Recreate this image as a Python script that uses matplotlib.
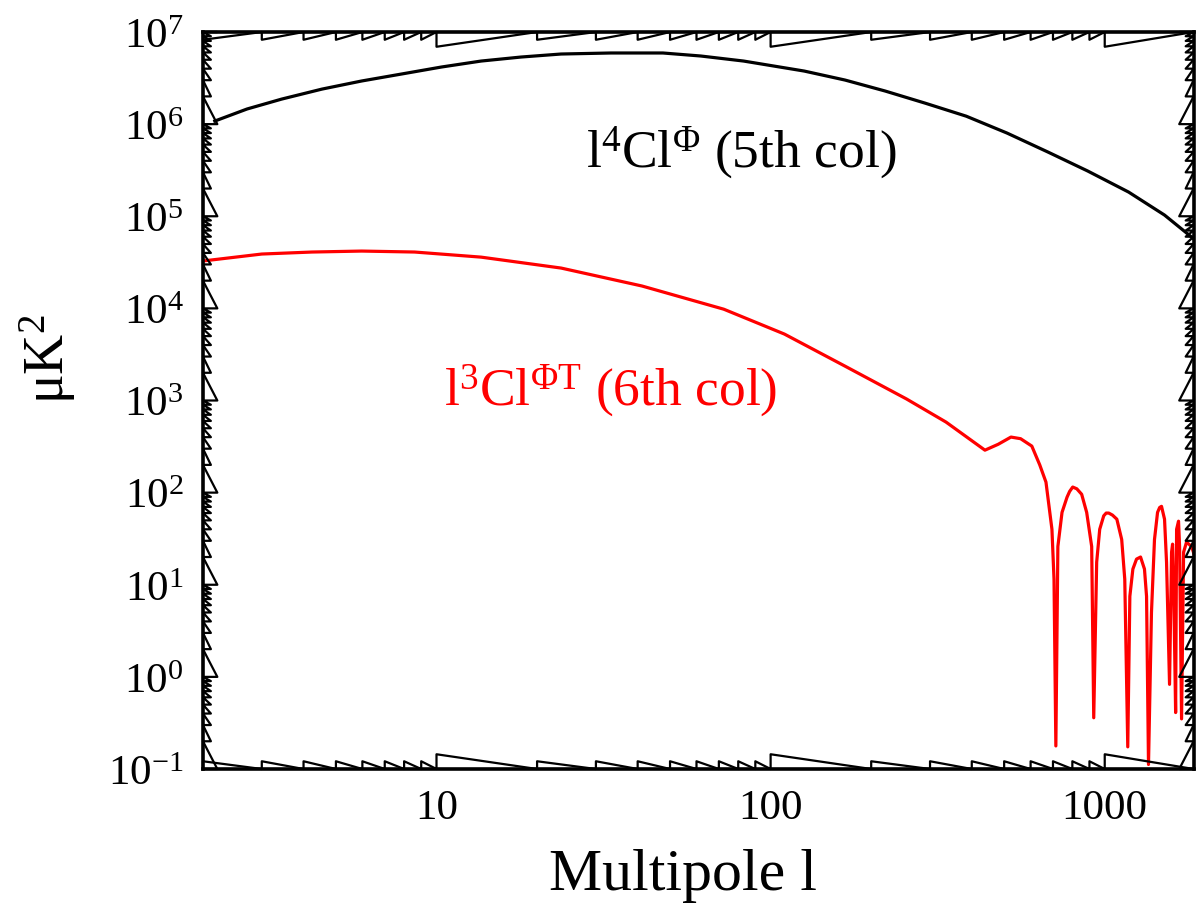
import matplotlib
matplotlib.use('Agg')
import matplotlib.pyplot as plt
from matplotlib import transforms
from matplotlib.ticker import FixedLocator, FixedFormatter, LogFormatterSciNotation, NullLocator

plt.rcParams['font.family'] = ['Liberation Serif', 'DejaVu Serif']
plt.rcParams['mathtext.fontset'] = 'custom'
plt.rcParams['mathtext.rm'] = 'Liberation Serif'
plt.rcParams['mathtext.it'] = 'Liberation Serif:italic'
plt.rcParams['mathtext.bf'] = 'Liberation Serif:bold'
plt.rcParams['axes.unicode_minus'] = False

# l^4 Cl^Phi (5th column)
l_phi = [2.17, 2.71, 3.44, 4.54, 5.97, 7.86, 10.35, 13.6, 17.9, 23.6, 33.3, 47.6, 61.8, 83,
         126, 167, 220, 290, 385, 510, 676, 889, 1179, 1510, 1882]
cl_phi = [1.08e6, 1.46e6, 1.87e6, 2.40e6, 2.94e6, 3.50e6, 4.17e6, 4.84e6, 5.35e6, 5.77e6,
          5.92e6, 5.92e6, 5.49e6, 4.84e6, 3.77e6, 3.01e6, 2.29e6, 1.69e6, 1.22e6, 8.0e5,
          4.98e5, 3.10e5, 1.83e5, 1.03e5, 5.38e4]

# l^3 Cl^PhiT (6th column)
l_phit = [2.0, 3.0, 4.24, 5.97, 8.6, 13.6, 23.6, 41.2, 72.4, 110, 167, 255, 335, 438, 480, 524, 560,
          605, 639, 667, 695, 705, 714,
          724, 745, 771, 785, 802, 825, 853, 883, 914, 927,
          946, 966, 993, 1010, 1028, 1055, 1087, 1124, 1148, 1172,
          1189, 1214, 1245, 1280, 1315, 1334, 1352,
          1380, 1409, 1439, 1460, 1479, 1510, 1531, 1563,
          1585, 1596, 1607, 1630,
          1641, 1663, 1675, 1698,
          1722, 1757, 1820, 1870]
cl_phit = [3.27e4, 3.89e4, 4.09e4, 4.19e4, 4.09e4, 3.6e4, 2.74e4, 1.75e4, 9.8e3, 5.26e3, 2.36e3, 1.04e3, 583, 289, 335, 401, 385,
           320, 200, 130, 40, 11.5, 0.178,
           26, 61, 89, 103, 115, 110, 96, 61, 26, 0.36,
           17.6, 40, 56, 60, 60, 57, 51.5, 31, 11.5, 0.174,
           7.5, 14.8, 19, 20, 14.8, 7.5, 0.112,
           5.0, 31, 61, 69, 71, 51.5, 17.6, 0.83,
           22.6, 27.6, 11.5, 0.41,
           40, 49, 26, 0.35,
           22.6, 29, 26, 19]

x_lim = (2, 1845)
y_lim = (1e-1, 1e7)
x_ticks = [10, 100, 1000]
x_labels = ['10', '100', '1000']
y_ticks = [10.0 ** e for e in range(-1, 8)]


def tick_list(lo, hi):
    out = []
    for e in range(-2, 8):
        for k in range(1, 10):
            v = k * 10.0 ** e
            if lo * 0.9999 <= v <= hi * 1.0001:
                out.append((v, k == 1))
    return out


def sawtooth(ax, side, ticks, end, minor_len, major_len):
    along, across = [], []
    for i, (v, maj) in enumerate(ticks):
        nxt = ticks[i + 1][0] if i + 1 < len(ticks) else end
        ln = major_len if maj else minor_len
        along += [v, v, nxt]
        across += [0, ln, 0]
    if side in ('top', 'right'):
        across = [1 - a for a in across]
    if side in ('bottom', 'top'):
        tr = transforms.blended_transform_factory(ax.transData, ax.transAxes)
        ax.plot(along, across, color='black', lw=1.6, transform=tr, clip_on=False)
    else:
        tr = transforms.blended_transform_factory(ax.transAxes, ax.transData)
        ax.plot(across, along, color='black', lw=1.6, transform=tr, clip_on=False)


fig = plt.figure(figsize=(11.96, 9.12), dpi=100)
ax = fig.add_axes([0.1697, 0.1557, 0.8283, 0.8081])
ax.set_xscale('log')
ax.set_yscale('log')
ax.set_xlim(*x_lim)
ax.set_ylim(*y_lim)

ax.plot(l_phi, cl_phi, color='black', lw=2.3)
ax.plot(l_phit, cl_phit, color='red', lw=2.3)

ax.text(0.543, 0.818, 'l$^{4}$Cl$^{\\mathrm{Φ}}$ (5th col)', fontsize=38.5,
        ha='center', va='baseline', color='black', transform=ax.transAxes)
ax.text(0.412, 0.495, 'l$^{3}$Cl$^{\\mathrm{ΦT}}$ (6th col)', fontsize=38.5,
        ha='center', va='baseline', color='red', transform=ax.transAxes)

ax.xaxis.set_major_locator(FixedLocator(x_ticks))
ax.xaxis.set_major_formatter(FixedFormatter(x_labels))
ax.xaxis.set_minor_locator(NullLocator())
ax.yaxis.set_major_locator(FixedLocator(y_ticks))
ax.yaxis.set_major_formatter(LogFormatterSciNotation())
ax.yaxis.set_minor_locator(NullLocator())
ax.tick_params(axis='both', which='both', length=0, labelsize=31)
ax.tick_params(axis='x', pad=14)
ax.tick_params(axis='y', pad=14)

for s in ax.spines.values():
    s.set_linewidth(2.6)

xt = tick_list(*x_lim)
yt = tick_list(*y_lim)
sawtooth(ax, 'bottom', xt, x_lim[1], 0.0105, 0.02)
sawtooth(ax, 'top', xt, x_lim[1], 0.0105, 0.02)
sawtooth(ax, 'left', yt, y_lim[1], 0.008, 0.0145)
sawtooth(ax, 'right', yt, y_lim[1], 0.008, 0.0145)

fig.text(0.571, 0.024, 'Multipole l', fontsize=43, ha='center', va='baseline')
fig.text(0.040, 1 - 359 / 912, 'μK$^2$', fontsize=40, ha='center', va='center', rotation=90)

fig.savefig('out.png', dpi=100)
